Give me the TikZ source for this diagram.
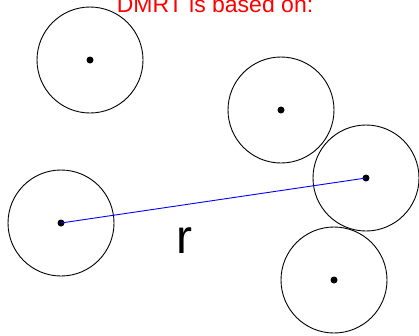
\documentclass[tikz,border=0pt]{standalone}
\usepackage{fontspec}
\setmainfont{Liberation Sans}
\begin{document}
\begin{tikzpicture}[x=1pt,y=-1pt,
  ball/.style={draw,circle,line width=0.9pt,minimum size=106pt,inner sep=0pt},
  dot/.style={fill,circle,minimum size=7pt,inner sep=0pt}]
  \useasboundingbox (0,0) rectangle (419,335);
  \clip (0,0) rectangle (419,335);
  \node[text=red,font=\fontsize{23}{27}\selectfont,anchor=base] (title) at (215,12.5) {DMRT is based on:};
  \node[ball] (b1) at (90,60) {};
  \node[ball] (b2) at (281,110) {};
  \node[ball] (b3) at (366,178) {};
  \node[ball] (b4) at (61,223) {};
  \node[ball] (b5) at (334,280) {};
  \node[dot] (c1) at (b1.center) {};
  \node[dot] (c2) at (b2.center) {};
  \node[dot] (c3) at (b3.center) {};
  \node[dot] (c4) at (b4.center) {};
  \node[dot] (c5) at (b5.center) {};
  \draw[blue,line width=0.9pt] (c4.center) -- (c3.center);
  \node[font=\fontsize{48}{56}\selectfont,anchor=base] (r) at (184,253) {r};
\end{tikzpicture}
\end{document}
